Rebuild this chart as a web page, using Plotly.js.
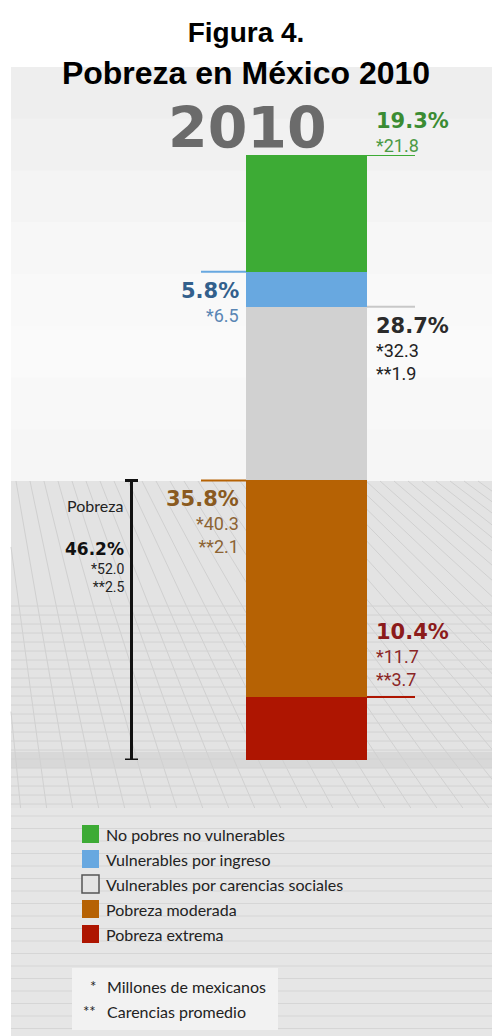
<!DOCTYPE html>
<html>
<head>
<meta charset="utf-8">
<script src="https://cdn.plot.ly/plotly-3.0.1.min.js"></script>
<style>html,body{margin:0;padding:0;background:#fff;}#chart{width:492px;height:1036px;}</style>
</head>
<body>
<div id="chart"></div>
<script>
// ---------- DATA ----------
const year = '2010';
const categories = ['No pobres no vulnerables', 'Vulnerables por ingreso', 'Vulnerables por carencias sociales', 'Pobreza moderada', 'Pobreza extrema'];
const percents = [19.3, 5.8, 28.7, 35.8, 10.4];
const millions = [21.8, 6.5, 32.3, 40.3, 11.7];
const carencias = [null, null, 1.9, 2.1, 3.7];
const pobrezaLabel = 'Pobreza';
const pobrezaPercent = 46.2;
const pobrezaMillions = 52.0;
const pobrezaCarencias = 2.5;
const noteMarks = ['*', '**'];
const noteTexts = ['Millones de mexicanos', 'Carencias promedio'];

// ---------- STYLE ----------
const barColors = ['#3dab35', '#68a8e0', '#d1d1d1', '#b66204', '#ae1501'];
const pctColors = ['#3b8c33', '#33608c', '#2b2b2b', '#8a5a20', '#8c1b1b'];
const subColors = ['#4c9a45', '#5a86b4', '#222222', '#8c6434', '#8b2626'];
const leaderColors = ['#3dab35', '#68a8e0', '#c8c8c8', '#b66204', '#ae1501'];
const labelSide = ['right', 'left', 'right', 'left', 'right'];
const labelOffsetPx = [-34, 19, 19, 19, -65];  // offset of the % label centre from the segment top (px)
const H = 1036, W = 492, TOP = 155, BOT = 760;
const px = p => p / W;
const py = p => (BOT - p) / (BOT - TOP);
const barWidth = 0.5;
const pxPerUnit = 121 / barWidth;
const barCenterPx = 306.5;
const xRange = [-barCenterPx / pxPerUnit, (W - barCenterPx) / pxPerUnit];

// segment tops (stacked from bottom: last category at bottom)
const tops = [];
let acc = 0;
for (let i = categories.length - 1; i >= 0; i--) { acc += percents[i]; tops[i] = acc; }
const yToPx = v => BOT - v / 100 * (BOT - TOP);

// ---------- TRACES ----------
const traces = [];
for (let i = categories.length - 1; i >= 0; i--) {
  traces.push({
    type: 'bar', x: [year], y: [percents[i]], name: categories[i], width: barWidth,
    marker: {color: barColors[i], line: {width: 0}}, showlegend: false, hoverinfo: 'name+y'
  });
}

// ---------- SHAPES ----------
const shapes = [];
const rect = (x0, y0, x1, y1, c) => shapes.push({type: 'rect', xref: 'paper', yref: 'paper', x0: px(x0), x1: px(x1), y0: py(y0), y1: py(y1), fillcolor: c, line: {width: 0}, layer: 'below'});
const seg = (x0, y0, x1, y1, c, w) => shapes.push({type: 'line', xref: 'paper', yref: 'paper', x0: px(x0), x1: px(x1), y0: py(y0), y1: py(y1), line: {color: c, width: w}, layer: 'below'});
// upper panel (soft gradient)
const upperBands = ['#eeeeee', '#f1f1f1', '#f4f4f4', '#f7f7f7', '#f9f9f9', '#fafafa', '#f8f8f8', '#f6f6f6'];
const bandH = (481 - 67) / upperBands.length;
upperBands.forEach((c, k) => rect(11, 67 + k * bandH, W, 67 + (k + 1) * bandH + 0.5, c));
// floor
rect(11, 481, W, 1036, '#e3e3e3');
rect(11, 752, W, 768, '#d8d8d8');
rect(11, 808, W, 1036, '#e6e6e6');
// floor perspective rays
const VPx = -50, VPy = 100;
for (let x0 = -600; x0 <= W; x0 += 14) {
  const k = (x0 - VPx) / (481 - VPy);
  if (k <= 0) continue;
  let ys = 481;
  if (x0 < 11) { ys = VPy + (11 - VPx) / k; }
  if (ys >= 808) continue;
  const ye = 808;
  seg(VPx + k * (ys - VPy), ys, VPx + k * (ye - VPy), ye, '#d0d0d0', 1);
}
for (let y = 606; y < 808; y += 9) seg(11, y, W, y, '#d2d2d2', 1);
for (let y = 816; y < 1036; y += 12.5) seg(11, y, W, y, '#d6d6d6', 1);

// leader lines
const half = barWidth / 2;
const leadLenR = 48 / pxPerUnit, leadLenL = 45 / pxPerUnit;
categories.forEach((c, i) => {
  const y = tops[i];
  const xa = labelSide[i] === 'right' ? half : -half - leadLenL;
  const xb = labelSide[i] === 'right' ? half + leadLenR : -half;
  shapes.push({type: 'line', xref: 'x', yref: 'y', x0: xa, x1: xb, y0: y, y1: y, line: {color: leaderColors[i], width: 2}, layer: 'above'});
});
// poverty bracket
const brX = px(131.5);
shapes.push({type: 'line', xref: 'paper', yref: 'y', x0: brX, x1: brX, y0: 0, y1: pobrezaPercent, line: {color: '#111', width: 3}});
[0, pobrezaPercent].forEach(v => shapes.push({type: 'line', xref: 'paper', yref: 'y', x0: px(125), x1: px(138), y0: v, y1: v, line: {color: '#111', width: 3}}));

// ---------- ANNOTATIONS ----------
const ann = [];
const pctFont = (c, s) => ({family: 'DejaVu Sans, sans-serif', size: s, color: c, weight: 'bold'});
const subFont = (c, s) => ({family: 'Roboto, sans-serif', size: s, color: c});
ann.push({xref: 'paper', yref: 'paper', x: px(248), y: py(128), text: year, showarrow: false, xanchor: 'center', yanchor: 'middle', font: {family: 'DejaVu Sans, sans-serif', size: 57, color: '#6b6b6b', weight: 'bold'}});
categories.forEach((c, i) => {
  const right = labelSide[i] === 'right';
  const xp = right ? px(374) : px(241);
  const xa = right ? 'left' : 'right';
  const yc = yToPx(tops[i]) + labelOffsetPx[i];
  ann.push({xref: 'paper', yref: 'paper', x: xp, y: py(yc), text: percents[i].toFixed(1) + '%', showarrow: false, xanchor: xa, yanchor: 'middle', font: pctFont(pctColors[i], 21)});
  let sub = '*' + millions[i].toFixed(1);
  if (carencias[i] !== null) sub += '<br>**' + carencias[i].toFixed(1);
  ann.push({xref: 'paper', yref: 'paper', x: xp, y: py(yc + 12), text: sub, showarrow: false, xanchor: xa, yanchor: 'top', align: right ? 'left' : 'right', font: subFont(subColors[i], 18)});
});
// poverty total
ann.push({xref: 'paper', yref: 'paper', x: px(125), y: py(505), text: pobrezaLabel, showarrow: false, xanchor: 'right', yanchor: 'middle', font: {family: 'Lato, sans-serif', size: 16, color: '#222'}});
ann.push({xref: 'paper', yref: 'paper', x: px(126), y: py(549), text: pobrezaPercent.toFixed(1) + '%', showarrow: false, xanchor: 'right', yanchor: 'middle', font: pctFont('#111', 17)});
ann.push({xref: 'paper', yref: 'paper', x: px(126), y: py(559), text: '*' + pobrezaMillions.toFixed(1) + '<br>**' + pobrezaCarencias.toFixed(1), showarrow: false, xanchor: 'right', yanchor: 'top', align: 'right', font: {family: 'Roboto, sans-serif', size: 14, color: '#222'}});

// legend (built from categories / colours)
categories.forEach((c, i) => {
  const yTop = 825 + i * 25;
  shapes.push({type: 'rect', xref: 'paper', yref: 'paper', x0: px(82), x1: px(99), y0: py(yTop), y1: py(yTop + 18),
    fillcolor: i === 2 ? '#e4e4e4' : barColors[i], line: {color: i === 2 ? '#555' : barColors[i], width: i === 2 ? 1.5 : 0}});
  ann.push({xref: 'paper', yref: 'paper', x: px(104), y: py(yTop + 9), text: c, showarrow: false, xanchor: 'left', yanchor: 'middle', font: {family: 'Lato, sans-serif', size: 16, color: '#222'}});
});
// notes box
shapes.push({type: 'rect', xref: 'paper', yref: 'paper', x0: px(72), x1: px(278), y0: py(968), y1: py(1030), fillcolor: '#f2f2f2', line: {width: 0}});
noteMarks.forEach((m, i) => {
  const yc = 986 + i * 25;
  ann.push({xref: 'paper', yref: 'paper', x: px(98), y: py(yc), text: m, showarrow: false, xanchor: 'right', yanchor: 'middle', font: {family: 'Lato, sans-serif', size: 15, color: '#222'}});
  ann.push({xref: 'paper', yref: 'paper', x: px(105), y: py(yc), text: noteTexts[i], showarrow: false, xanchor: 'left', yanchor: 'middle', font: {family: 'Lato, sans-serif', size: 16, color: '#222'}});
});

const layout = {
  width: W, height: H,
  margin: {l: 0, r: 0, t: TOP, b: H - BOT, pad: 0},
  paper_bgcolor: '#ffffff', plot_bgcolor: 'rgba(0,0,0,0)',
  title: {text: '<span style="font-size:28px">Figura 4.</span><br>Pobreza en México 2010', font: {family: 'Liberation Sans, Arial, sans-serif', size: 32, color: '#000', weight: 'bold'}, x: 0.5, xanchor: 'center', xref: 'paper', yref: 'container', y: 1 - 42 / H, yanchor: 'top'},
  barmode: 'stack', showlegend: false,
  xaxis: {type: 'category', range: xRange, visible: false, fixedrange: true},
  yaxis: {range: [0, 100], visible: false, fixedrange: true},
  shapes: shapes, annotations: ann
};
Plotly.newPlot('chart', traces, layout, {displayModeBar: false, staticPlot: true});
</script>
</body>
</html>
